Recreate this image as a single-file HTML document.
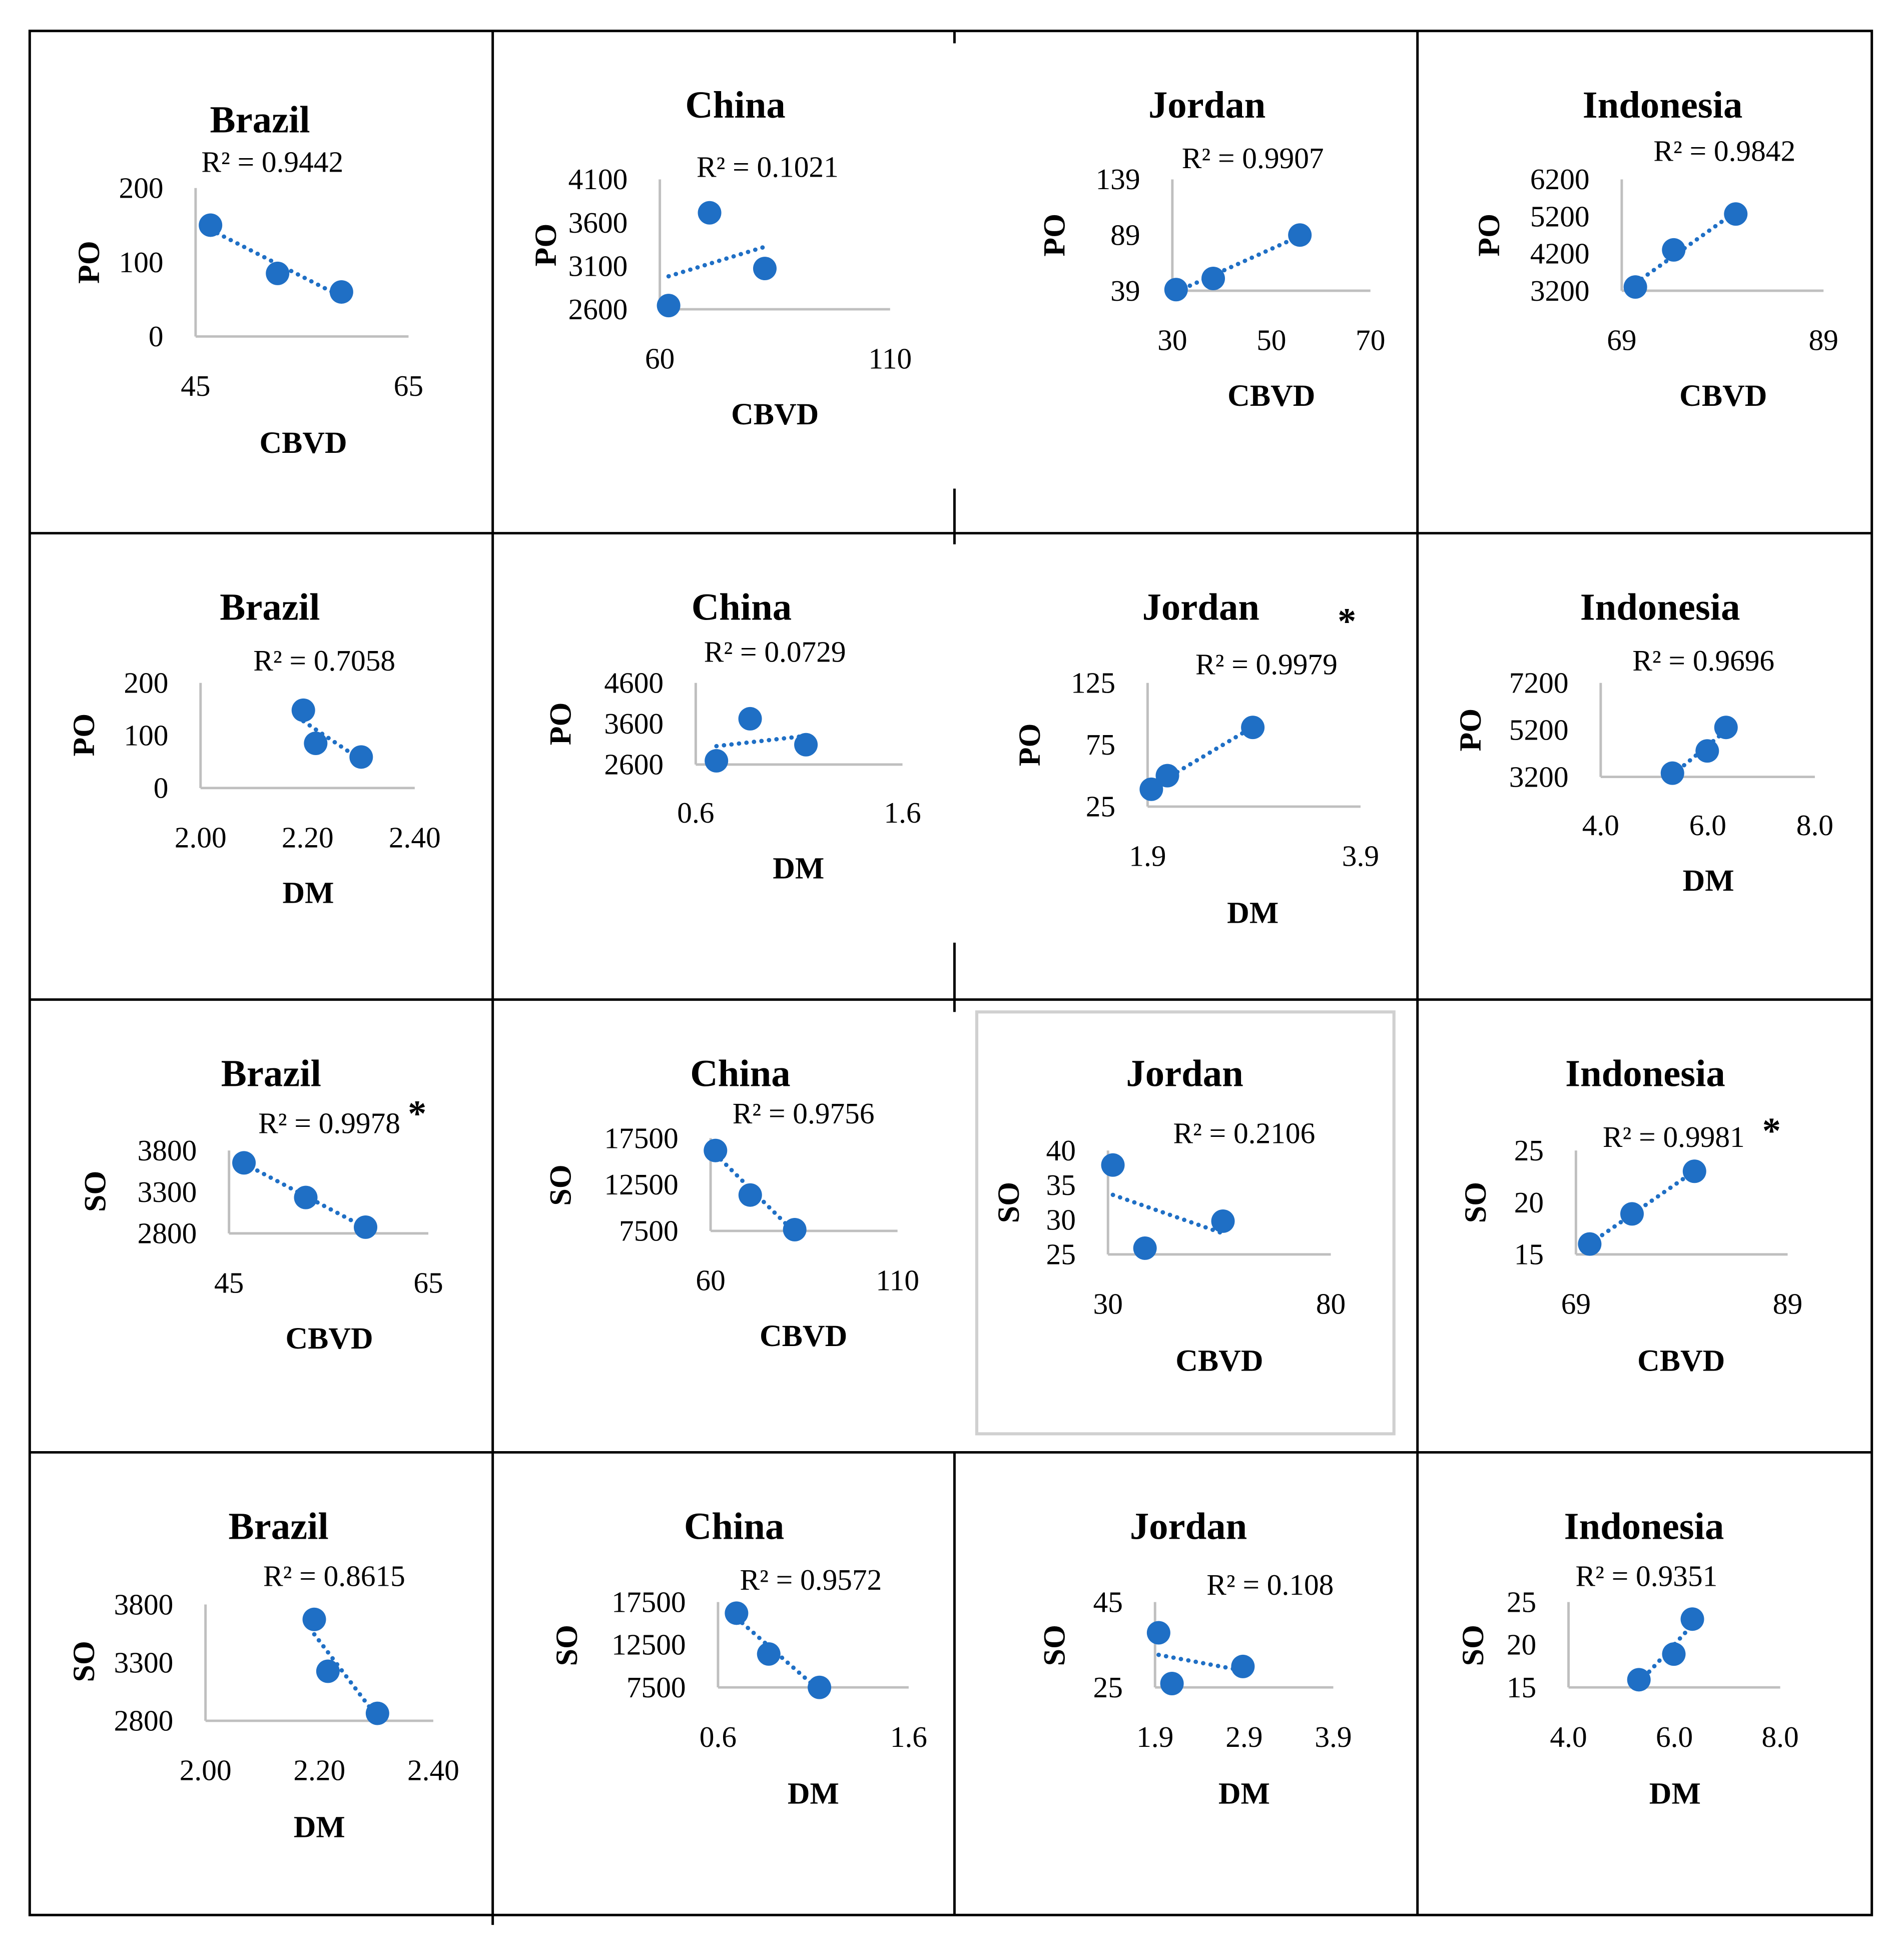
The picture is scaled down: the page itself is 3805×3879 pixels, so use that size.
<!DOCTYPE html>
<html><head><meta charset="utf-8"><style>
html,body{margin:0;padding:0;background:#fff;}
svg{display:block;}
text{font-family:"Liberation Serif",serif;fill:#000;}
</style></head><body>
<svg id="fig" width="3805" height="3879" viewBox="0 0 1538 1569" preserveAspectRatio="none" xmlns="http://www.w3.org/2000/svg">
<g id="grid" stroke="#000" stroke-width="2" fill="none">
<rect x="24" y="25" width="1488" height="1523"/>
<line x1="24" y1="431" x2="1512" y2="431"/>
<line x1="24" y1="808" x2="1512" y2="808"/>
<line x1="24" y1="1174" x2="1512" y2="1174"/>
<line x1="398" y1="25" x2="398" y2="1556"/>
<line x1="1145" y1="25" x2="1145" y2="1548"/>
<line x1="771" y1="25" x2="771" y2="35"/>
<line x1="771" y1="395" x2="771" y2="440"/>
<line x1="771" y1="762" x2="771" y2="818"/>
<line x1="771" y1="1174" x2="771" y2="1548"/>
</g>
<rect x="789" y="818" width="337" height="341" fill="none" stroke="#d0d0d0" stroke-width="2.5"/>
</svg>
<script>
// chart data: x values, y values, tick labels
const x_c1=[46.4,52.7,58.7], y_c1=[150,85,60], xt_c1=["45","65"], yt_c1=["0","100","200"];
const x_c2=[61.9,70.8,82.8], y_c2=[2643,3714,3071], xt_c2=["60","110"], yt_c2=["2600","3100","3600","4100"];
const x_c3=[30.75,38.25,55.75], y_c3=[40,50,89], xt_c3=["30","50","70"], yt_c3=["39","89","139"];
const x_c4=[70.35,74.15,80.3], y_c4=[3300,4300,5267], xt_c4=["69","89"], yt_c4=["3200","4200","5200","6200"];
const x_c5=[2.192,2.215,2.30], y_c5=[148,85,59], xt_c5=["2.00","2.20","2.40"], yt_c5=["0","100","200"];
const x_c6=[0.70,0.863,1.133], y_c6=[2691,3721,3085], xt_c6=["0.6","1.6"], yt_c6=["2600","3600","4600"];
const x_c7=[1.935,2.086,2.888], y_c7=[39,50,89], xt_c7=["1.9","3.9"], yt_c7=["25","75","125"];
const x_c8=[5.34,5.99,6.34], y_c8=[3358,4305,5305], xt_c8=["4.0","6.0","8.0"], yt_c8=["3200","5200","7200"];
const x_c9=[46.5,52.7,58.7], y_c9=[3651,3233,2875], xt_c9=["45","65"], yt_c9=["2800","3300","3800"];
const x_c10=[61.3,70.6,82.5], y_c10=[16167,11367,7633], xt_c10=["60","110"], yt_c10=["7500","12500","17500"];
const x_c11=[31.1,38.3,55.8], y_c11=[37.9,25.9,29.8], xt_c11=["30","80"], yt_c11=["25","30","35","40"];
const x_c12=[70.3,74.3,80.2], y_c12=[16,18.9,23], xt_c12=["69","89"], yt_c12=["15","20","25"];
const x_c13=[2.191,2.215,2.302], y_c13=[3672,3226,2864], xt_c13=["2.00","2.20","2.40"], yt_c13=["2800","3300","3800"];
const x_c14=[0.697,0.866,1.132], y_c14=[16196,11413,7500], xt_c14=["0.6","1.6"], yt_c14=["7500","12500","17500"];
const x_c15=[1.94,2.09,2.886], y_c15=[37.8,25.9,29.9], xt_c15=["1.9","2.9","3.9"], yt_c15=["25","45"];
const x_c16=[5.33,5.99,6.34], y_c16=[15.9,18.9,23], xt_c16=["4.0","6.0","8.0"], yt_c16=["15","20","25"];
const r2Labels=["0.9442","0.1021","0.9907","0.9842","0.7058","0.0729","0.9979","0.9696","0.9978","0.9756","0.2106","0.9981","0.8615","0.9572","0.108","0.9351"];

// layout (pixel geometry)
const L=[
 {t:"Brazil",tp:[210,97],rp:[220,131],a:[158,330,272,152],xl:"CBVD",xlp:[245,358],yl:"PO",ylp:[72,212],xty:312},
 {t:"China",tp:[594,85],rp:[620,135],a:[533,719,250,145],xl:"CBVD",xlp:[626,335],yl:"PO",ylp:[441,198],xty:290},
 {t:"Jordan",tp:[975,85],rp:[1012,128],a:[947,1107,235,145],xl:"CBVD",xlp:[1027,320],yl:"PO",ylp:[852,190],xty:275},
 {t:"Indonesia",tp:[1343,85],rp:[1393,122],a:[1310,1473,235,145],xl:"CBVD",xlp:[1392,320],yl:"PO",ylp:[1203,190],xty:275},
 {t:"Brazil",tp:[218,491],rp:[262,534],a:[162,335,637,552],xl:"DM",xlp:[249,722],yl:"PO",ylp:[68,594],xty:677},
 {t:"China",tp:[599,491],rp:[626,527],a:[562,729,618,552],xl:"DM",xlp:[645,702],yl:"PO",ylp:[453,585],xty:657},
 {t:"Jordan",tp:[970,491],rp:[1023,537],a:[927,1099,652,552],xl:"DM",xlp:[1012,738],yl:"PO",ylp:[832,602],xty:692,star:[1088,498]},
 {t:"Indonesia",tp:[1341,491],rp:[1376,534],a:[1293,1466,628,552],xl:"DM",xlp:[1380,712],yl:"PO",ylp:[1188,590],xty:667},
 {t:"Brazil",tp:[219,868],rp:[266,908],a:[185,346,997,930],xl:"CBVD",xlp:[266,1082],yl:"SO",ylp:[77,963],xty:1037,star:[337,896]},
 {t:"China",tp:[598,868],rp:[649,900],a:[574,725,995,920],xl:"CBVD",xlp:[649,1080],yl:"SO",ylp:[453,958],xty:1035},
 {t:"Jordan",tp:[957,868],rp:[1005,916],a:[895,1075,1014,930],xl:"CBVD",xlp:[985,1100],yl:"SO",ylp:[815,972],xty:1054},
 {t:"Indonesia",tp:[1329,868],rp:[1352,919],a:[1273,1444,1014,930],xl:"CBVD",xlp:[1358,1100],yl:"SO",ylp:[1192,972],xty:1054,star:[1431,910]},
 {t:"Brazil",tp:[225,1234],rp:[270,1274],a:[166,350,1391,1297],xl:"DM",xlp:[258,1477],yl:"SO",ylp:[68,1343],xty:1431},
 {t:"China",tp:[593,1234],rp:[655,1277],a:[580,734,1364,1295],xl:"DM",xlp:[657,1450],yl:"SO",ylp:[458,1330],xty:1404},
 {t:"Jordan",tp:[960,1234],rp:[1026,1281],a:[933,1077,1364,1295],xl:"DM",xlp:[1005,1450],yl:"SO",ylp:[852,1330],xty:1404},
 {t:"Indonesia",tp:[1328,1234],rp:[1330,1274],a:[1267,1438,1364,1295],xl:"DM",xlp:[1353,1450],yl:"SO",ylp:[1190,1330],xty:1404}
];
const XS=[x_c1,x_c2,x_c3,x_c4,x_c5,x_c6,x_c7,x_c8,x_c9,x_c10,x_c11,x_c12,x_c13,x_c14,x_c15,x_c16];
const YS=[y_c1,y_c2,y_c3,y_c4,y_c5,y_c6,y_c7,y_c8,y_c9,y_c10,y_c11,y_c12,y_c13,y_c14,y_c15,y_c16];
const XT=[xt_c1,xt_c2,xt_c3,xt_c4,xt_c5,xt_c6,xt_c7,xt_c8,xt_c9,xt_c10,xt_c11,xt_c12,xt_c13,xt_c14,xt_c15,xt_c16];
const YT=[yt_c1,yt_c2,yt_c3,yt_c4,yt_c5,yt_c6,yt_c7,yt_c8,yt_c9,yt_c10,yt_c11,yt_c12,yt_c13,yt_c14,yt_c15,yt_c16];

const NS="http://www.w3.org/2000/svg";
const svg=document.getElementById('fig');
function mk(tag,attrs,parent,txt){const e=document.createElementNS(NS,tag);for(const k in attrs)e.setAttribute(k,attrs[k]);if(txt!==undefined)e.textContent=txt;parent.appendChild(e);return e;}

L.forEach((c,i)=>{
 const g=mk('g',{},svg);
 
 
 const [ax0,ax1,ay0,ay1]=c.a;
 const xt=XT[i], yt=YT[i];
 const xmin=+xt[0], xmax=+xt[xt.length-1], ymin=+yt[0], ymax=+yt[yt.length-1];
 const sx=v=>ax0+(v-xmin)/(xmax-xmin)*(ax1-ax0);
 const sy=v=>ay0-(v-ymin)/(ymax-ymin)*(ay0-ay1);
 let e;
 e=mk('text',{x:c.tp[0],y:c.tp[1]+10,'text-anchor':'middle','font-size':31,'font-weight':'bold'},g,c.t);
 
 
 e=mk('text',{x:c.rp[0],y:c.rp[1]+8,'text-anchor':'middle','font-size':24},g,'R\u00B2 = '+r2Labels[i]);
 
 
 if(c.star){e=mk('text',{x:c.star[0],y:c.star[1]+14,'text-anchor':'middle','font-size':30,'font-weight':'bold'},g,'*');
  
  }
 e=mk('line',{x1:ax0,y1:ay1,x2:ax0,y2:ay0,stroke:'#bfbfbf','stroke-width':2},g);
 
 
 e=mk('line',{x1:ax0,y1:ay0,x2:ax1,y2:ay0,stroke:'#bfbfbf','stroke-width':2},g);
 
 
 xt.forEach(t=>{e=mk('text',{x:sx(+t),y:c.xty+8,'text-anchor':'middle','font-size':24},g,t);
  
  });
 yt.forEach(t=>{e=mk('text',{x:ax0-26,y:sy(+t)+8,'text-anchor':'end','font-size':24},g,t);
  
  });
 e=mk('text',{x:c.xlp[0],y:c.xlp[1]+8,'text-anchor':'middle','font-size':25,'font-weight':'bold'},g,c.xl);
 
 
 e=mk('text',{x:0,y:0,'text-anchor':'middle','font-size':25,'font-weight':'bold',transform:'translate('+(c.ylp[0]+8)+','+c.ylp[1]+') rotate(-90)'},g,c.yl);
 
 
 // linear trendline
 const xs=XS[i], ys=YS[i], n=xs.length;
 const mx=xs.reduce((a,b)=>a+b)/n, my=ys.reduce((a,b)=>a+b)/n;
 let sxy=0,sxx=0; for(let k=0;k<n;k++){sxy+=(xs[k]-mx)*(ys[k]-my);sxx+=(xs[k]-mx)**2;}
 const b=sxy/sxx, a0=my-b*mx, lo=Math.min(...xs), hi=Math.max(...xs);
 e=mk('line',{x1:sx(lo),y1:sy(a0+b*lo),x2:sx(hi),y2:sy(a0+b*hi),stroke:'#1f6fc5','stroke-width':3.5,'stroke-dasharray':'0.1 6','stroke-linecap':'round'},g);
 
 
 for(let k=0;k<n;k++){e=mk('circle',{cx:sx(xs[k]),cy:sy(ys[k]),r:9.5,fill:'#1f6fc5'},g);
  
  }
});
</script>
</body></html>
